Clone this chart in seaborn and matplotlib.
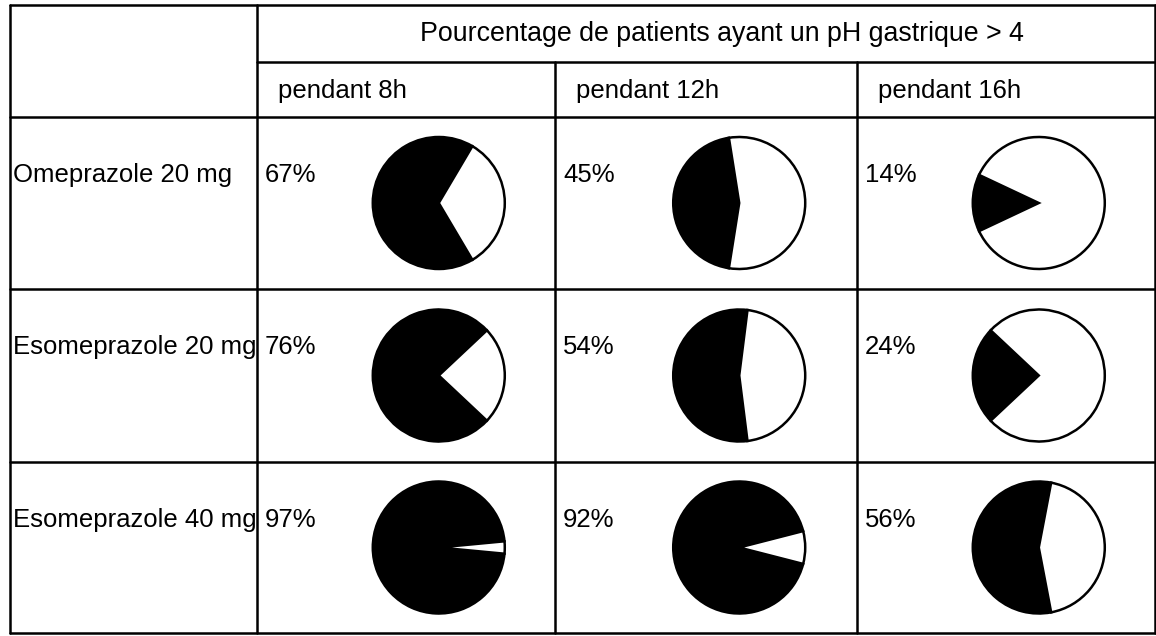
import matplotlib
matplotlib.use("Agg")
import matplotlib.pyplot as plt
import seaborn as sns

drugs = ["Omeprazole 20 mg", "Esomeprazole 20 mg", "Esomeprazole 40 mg"]
durations = ["pendant 8h", "pendant 12h", "pendant 16h"]
pct = [
    [67, 45, 14],
    [76, 54, 24],
    [97, 92, 56],
]
header = "Pourcentage de patients ayant un pH gastrique > 4"

sns.set_theme(style="white")
plt.rcParams["font.family"] = ["Liberation Sans", "DejaVu Sans"]

W, H = 1156, 636
fig = plt.figure(figsize=(W / 100, H / 100), dpi=100)
ax = fig.add_axes([0, 0, 1, 1])

# table grid (pixel coordinates)
x_left, x_first = 10, 257
col_edges = [257, 555, 857, 1155]
top, y_head = 5, 62
row_edges = [117, 289, 462, 633]
lw = 1.8

ax.plot([x_left, col_edges[-1]], [top, top], color="black", lw=lw)
ax.plot([x_first, col_edges[-1]], [y_head, y_head], color="black", lw=lw)
for y in row_edges:
    ax.plot([x_left, col_edges[-1]], [y, y], color="black", lw=lw)
ax.plot([x_left, x_left], [top, row_edges[-1]], color="black", lw=lw)
ax.plot([x_first, x_first], [top, row_edges[-1]], color="black", lw=lw)
ax.plot([col_edges[-1], col_edges[-1]], [top, row_edges[-1]], color="black", lw=lw)
for x in col_edges[1:-1]:
    ax.plot([x, x], [y_head, row_edges[-1]], color="black", lw=lw)

fs = 18.5
ax.text(722, 41, header, fontsize=19.3, ha="center", va="baseline", color="black")
for j, d in enumerate(durations):
    ax.text(col_edges[j] + 21, 98, d, fontsize=fs, ha="left", va="baseline", color="black")

radius = 66
for i, drug in enumerate(drugs):
    y0, y1 = row_edges[i], row_edges[i + 1]
    ax.text(x_left + 3, y0 + 65, drug, fontsize=fs, ha="left", va="baseline", color="black")
    for j in range(len(durations)):
        p = pct[i][j]
        c0, c1 = col_edges[j], col_edges[j + 1]
        ax.text(c0 + 8, y0 + 65, f"{p}%", fontsize=fs, ha="left", va="baseline", color="black")
        cx = c0 + 0.61 * (c1 - c0)
        cy = (y0 + y1) / 2
        ax.pie([p, 100 - p], colors=["black", "white"], startangle=180 - p * 1.8,
               center=(cx, cy), radius=radius, frame=True,
               wedgeprops=dict(edgecolor="black", linewidth=1.8))

ax.set_xlim(0, W)
ax.set_ylim(H, 0)
ax.set_aspect("equal")
ax.axis("off")

fig.savefig("out.png", dpi=100, facecolor="white")
